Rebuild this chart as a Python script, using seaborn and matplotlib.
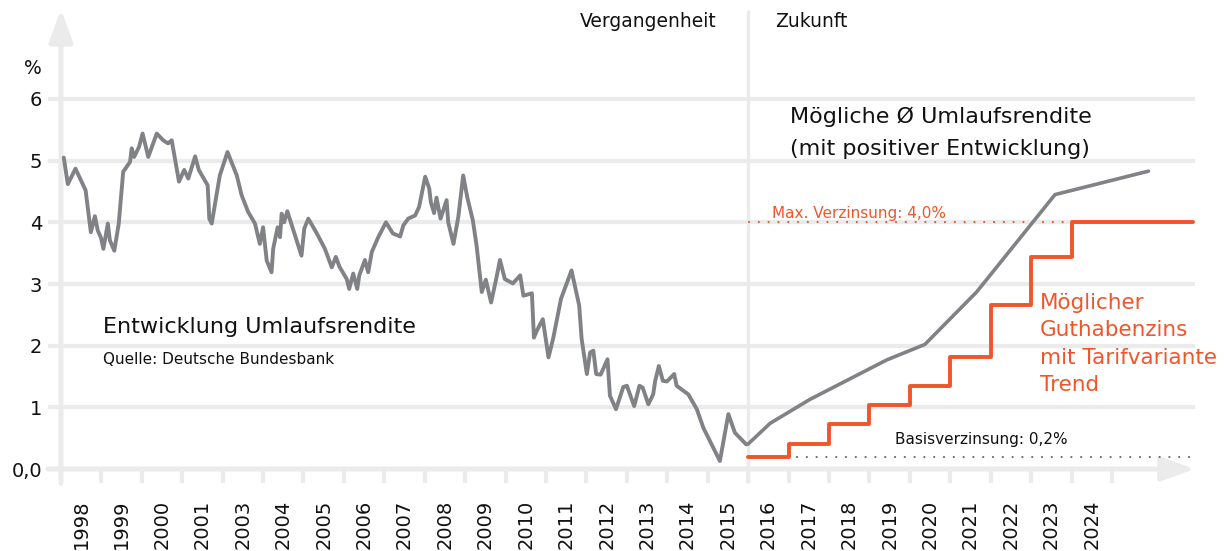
import matplotlib
matplotlib.use('Agg')
import matplotlib.pyplot as plt
import seaborn as sns

# x = position on the axis in "year fields" (0 = left edge of 1998 field)
year_labels = ['1998', '1999', '2000', '2001'] + [str(y) for y in range(2003, 2025)]

# Umlaufsrendite
hist_pos = [0.07, 0.17, 0.36, 0.61, 0.74, 0.84, 0.91, 0.99, 1.05, 1.16, 1.21, 1.32, 1.43,
            1.54, 1.71, 1.75, 1.81, 1.93, 2.02, 2.16, 2.37, 2.53, 2.65, 2.74, 2.92, 3.05,
            3.15, 3.32, 3.41, 3.63, 3.67, 3.73, 3.93, 4.12, 4.35, 4.47, 4.63, 4.80, 4.92,
            5.00, 5.09, 5.21, 5.25, 5.36, 5.42, 5.46, 5.52, 5.60, 5.79, 5.95, 6.02, 6.12,
            6.33, 6.53, 6.70, 6.80, 6.89, 7.07, 7.13, 7.23, 7.33, 7.38, 7.52, 7.60, 7.69,
            7.85, 8.04, 8.21, 8.39, 8.47, 8.59, 8.76, 8.86, 9.01, 9.11, 9.15, 9.23, 9.29,
            9.39, 9.54, 9.58, 9.71, 9.83, 9.95, 10.05, 10.19, 10.28, 10.41, 10.51, 10.64,
            10.76, 10.86, 10.98, 11.18, 11.36, 11.44, 11.65, 11.70, 11.77, 11.92, 12.06,
            12.18, 12.37, 12.63, 12.82, 12.88, 13.01, 13.09, 13.17, 13.24, 13.35, 13.52,
            13.58, 13.73, 13.91, 14.00, 14.18, 14.31, 14.39, 14.53, 14.65, 14.70, 14.79,
            14.89, 14.99, 15.17, 15.23, 15.52, 15.73, 15.89, 16.30, 16.51, 16.67, 16.95]
hist_yield = [5.05, 4.62, 4.87, 4.52, 3.84, 4.10, 3.87, 3.75, 3.57, 3.98, 3.71, 3.54, 3.98,
              4.82, 4.98, 5.20, 5.06, 5.22, 5.44, 5.06, 5.44, 5.33, 5.28, 5.33, 4.66, 4.85,
              4.71, 5.07, 4.85, 4.60, 4.06, 3.98, 4.76, 5.14, 4.76, 4.44, 4.17, 3.98, 3.65,
              3.92, 3.38, 3.19, 3.57, 3.92, 3.76, 4.14, 4.00, 4.18, 3.79, 3.46, 3.90, 4.06,
              3.82, 3.57, 3.27, 3.44, 3.28, 3.08, 2.92, 3.17, 2.92, 3.14, 3.39, 3.19, 3.52,
              3.76, 4.00, 3.82, 3.77, 3.95, 4.06, 4.11, 4.25, 4.74, 4.55, 4.33, 4.15, 4.40,
              4.06, 4.36, 4.00, 3.65, 4.09, 4.76, 4.41, 4.03, 3.63, 2.87, 3.07, 2.70,
              3.06, 3.39, 3.08, 3.01, 3.14, 2.81, 2.85, 2.13, 2.24, 2.43, 1.81,
              2.13, 2.76, 3.22, 2.65, 2.11, 1.54, 1.89, 1.92, 1.54, 1.53, 1.78,
              1.19, 0.97, 1.33, 1.35, 1.02, 1.35, 1.32, 1.05, 1.21, 1.43, 1.67,
              1.43, 1.42, 1.54, 1.35, 1.21, 0.97, 0.67, 0.13, 0.89, 0.59, 0.40]

# possible average yield (future)
future_pos = [16.99, 17.54, 18.53, 20.43, 21.37, 22.65, 24.59, 26.90]
future_yield = [0.40, 0.74, 1.13, 1.77, 2.02, 2.87, 4.45, 4.83]

# Guthabenzins Tarifvariante Trend
step_pos = [17, 18, 19, 20, 21, 22, 23, 24, 25, 28]
step_rate = [0.2, 0.4, 0.73, 1.04, 1.35, 1.82, 2.66, 3.44, 4.0, 4.0]

max_rate = 4.0
base_rate = 0.2
split_pos = 17
y_ticks = [0, 1, 2, 3, 4, 5, 6]
y_labels = ['0,0', '1', '2', '3', '4', '5', '6']

GRAY = '#818286'
ORANGE = '#f1552a'
LIGHT = '#ebebeb'
TXT = '#111111'

sns.set_style('white')
plt.rcParams['font.family'] = ['DejaVu Sans']

fig = plt.figure(figsize=(12.25, 5.51), dpi=100)
ax = fig.add_axes([48 / 1225, 66 / 551, 1157 / 1225, 480 / 551])
ax.set_xlim(-0.32, 28.30)
ax.set_ylim(-0.259, 7.524)
for s in ax.spines.values():
    s.set_visible(False)

# grid, axes, ticks
ax.hlines(y_ticks[1:], -0.32, 28.05, color=LIGHT, lw=3, zorder=1)
ax.vlines(range(1, 27), -0.23, 0, color=LIGHT, lw=3, zorder=1)
ax.vlines(split_pos, -0.23, 7.45, color=LIGHT, lw=2.5, zorder=1)
ax.annotate('', xy=(0, 7.46), xytext=(0, -0.23),
            arrowprops=dict(arrowstyle='-|>,head_length=2.0,head_width=0.72', lw=3.6,
                            color=LIGHT, shrinkA=0, shrinkB=0, mutation_scale=10), zorder=1)
ax.annotate('', xy=(28.05, 0), xytext=(-0.32, 0),
            arrowprops=dict(arrowstyle='-|>,head_length=2.0,head_width=0.72', lw=3.6,
                            color=LIGHT, shrinkA=0, shrinkB=0, mutation_scale=10), zorder=1)

# data lines
sns.lineplot(x=hist_pos, y=hist_yield, ax=ax, color=GRAY, lw=2.8, sort=False,
             estimator=None, zorder=3)
sns.lineplot(x=future_pos, y=future_yield, ax=ax, color=GRAY, lw=2.6, sort=False,
             estimator=None, zorder=3)
sns.lineplot(x=step_pos, y=step_rate, ax=ax, color=ORANGE, lw=2.8, sort=False,
             estimator=None, drawstyle='steps-post', zorder=4)
ax.plot([17.02, 24.98], [max_rate, max_rate], color=ORANGE, lw=1.6,
        linestyle=(0, (0.01, 4.4)), dash_capstyle='round', zorder=2)
ax.plot([18.2, 28.03], [base_rate, base_rate], color='#6d6e71', lw=1.6,
        linestyle=(0, (0.01, 4.4)), dash_capstyle='round', zorder=2)

# ticks
ax.set_xticks([i + 0.5 for i in range(len(year_labels))])
ax.set_xticklabels(year_labels, rotation=90, fontsize=14, color=TXT)
ax.set_yticks(y_ticks)
ax.set_yticklabels(y_labels, fontsize=14, color=TXT)
ax.tick_params(axis='x', length=0, pad=10.5)
ax.tick_params(axis='y', length=0, pad=4.3)
ax.set_xlabel('')
ax.set_ylabel('')

# texts
ax.text(-0.69, 6.4, '%', fontsize=13.5, color=TXT, ha='center', va='baseline', clip_on=False)
ax.text(16.23, 7.25, 'Vergangenheit', fontsize=13.5, color=TXT, ha='right', va='center')
ax.text(17.66, 7.25, 'Zukunft', fontsize=13.5, color=TXT, ha='left', va='center')
ax.text(18.04, 5.61, 'Mögliche Ø Umlaufsrendite', fontsize=16, color=TXT, va='baseline')
ax.text(18.04, 5.09, '(mit positiver Entwicklung)', fontsize=16, color=TXT, va='baseline')
ax.text(1.04, 2.21, 'Entwicklung Umlaufsrendite', fontsize=16, color=TXT, va='baseline')
ax.text(1.04, 1.70, 'Quelle: Deutsche Bundesbank', fontsize=11, color=TXT, va='baseline')
ax.text(17.59, 4.07, 'Max. Verzinsung: 4,0%', fontsize=11, color=ORANGE, va='baseline')
ax.text(20.63, 0.41, 'Basisverzinsung: 0,2%', fontsize=11, color=TXT, va='baseline')
for line, yb in zip(['Möglicher', 'Guthabenzins', 'mit Tarifvariante', 'Trend'],
                    [2.60, 2.15, 1.71, 1.26]):
    ax.text(24.22, yb, line, fontsize=15.5, color=ORANGE, va='baseline')

fig.savefig('out.png', dpi=100)
